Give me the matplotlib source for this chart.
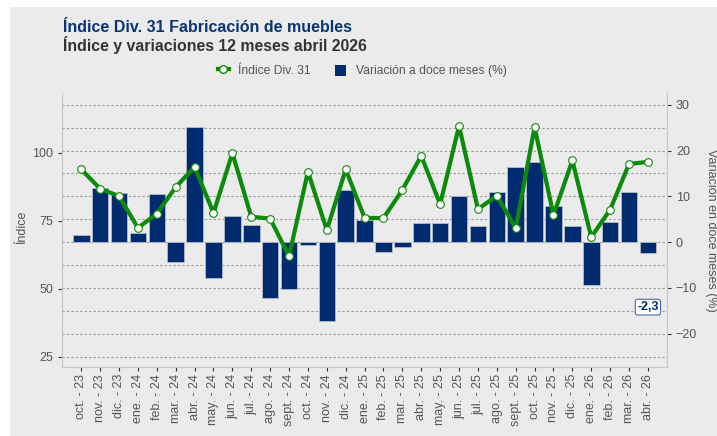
import numpy as np
import matplotlib
matplotlib.use('Agg')
import matplotlib.pyplot as plt
from matplotlib.patches import Rectangle
from matplotlib.lines import Line2D
from matplotlib.ticker import MultipleLocator

plt.rcParams['font.family'] = ['Liberation Sans', 'DejaVu Sans']

months = ['oct. - 23', 'nov. - 23', 'dic. - 23', 'ene. - 24', 'feb. - 24', 'mar. - 24',
          'abr. - 24', 'may. - 24', 'jun. - 24', 'jul. - 24', 'ago. - 24', 'sept. - 24',
          'oct. - 24', 'nov. - 24', 'dic. - 24', 'ene. - 25', 'feb. - 25', 'mar. - 25',
          'abr. - 25', 'may. - 25', 'jun. - 25', 'jul. - 25', 'ago. - 25', 'sept. - 25',
          'oct. - 25', 'nov. - 25', 'dic. - 25', 'ene. - 26', 'feb. - 26', 'mar. - 26',
          'abr. - 26']

# index values (left axis)
indice = [93.8, 86.7, 84.0, 72.3, 77.5, 87.3, 94.7, 77.8, 99.8, 76.4, 75.7, 61.9,
          93.0, 71.5, 93.8, 76.0, 75.9, 86.3, 98.8, 81.0, 109.8, 79.2, 84.1, 72.2,
          109.3, 77.0, 97.1, 68.9, 79.0, 95.8, 96.6]

# 12-month variation in % (right axis)
variacion = [1.6, 11.9, 10.8, 2.0, 10.4, -4.3, 25.2, -7.8, 5.6, 3.8, -12.1, -10.2,
             -0.7, -17.3, 11.4, 4.9, -2.2, -1.1, 4.1, 4.1, 10.0, 3.6, 10.9, 16.5,
             17.4, 7.8, 3.5, -9.3, 4.3, 10.9, -2.3]

green = '#0c8a0c'
navy = '#002b6f'
bg = '#ebebeb'
txt = '#555555'

fig = plt.figure(figsize=(7.17, 4.36), dpi=100)
fig.patch.set_facecolor('white')
fig.patches.append(Rectangle((10 / 717, 0), 1, 1 - 7 / 436, transform=fig.transFigure,
                             facecolor=bg, edgecolor='none', zorder=-10))

ax1 = fig.add_axes([0.087, 0.158, 0.843, 0.628])
ax2 = ax1.twinx()
ax2.set_zorder(1)
ax1.set_zorder(2)
ax1.patch.set_visible(False)
ax2.patch.set_visible(False)

x = np.arange(len(months))

ax2.bar(x, variacion, width=0.88, color=navy, edgecolor='#b4bccb', linewidth=0.6, zorder=2)
ax1.plot(x, indice, color=green, lw=3, marker='o', ms=5.5, mfc='white', mec=green,
         mew=0.8, zorder=3)

ax1.set_xlim(-1, 31)
ax1.set_ylim(21.1, 121.8)
ax2.set_ylim(-27.3, 32.5)

ax1.set_yticks([25, 50, 75, 100])
ax2.yaxis.set_major_locator(MultipleLocator(10))
ax2.yaxis.set_minor_locator(MultipleLocator(5))
ax2.grid(True, which='both', axis='y', linestyle=(0, (2, 2)), color='#9a9a9a', lw=0.8)
ax2.set_axisbelow(True)
ax2.tick_params(axis='y', which='minor', length=0)

ax1.set_xticks(x)
ax1.set_xticklabels(months, rotation=90)

for ax in (ax1, ax2):
    for s in ax.spines.values():
        s.set_color('#c8c8c8')
    ax.spines['top'].set_visible(False)
    ax.tick_params(labelsize=9, labelcolor=txt, length=3, width=0.8, color='#333333')

ax1.tick_params(axis='x', pad=2)

# value label for last bar
ax2.annotate('-2,3', xy=(x[-1], -14.2), ha='center', va='center', fontsize=9,
             fontweight='bold', color=navy, zorder=5,
             bbox=dict(boxstyle='round,pad=0.15,rounding_size=0.2', fc='white',
                       ec='#4a69a8', lw=0.8))

fig.text(63 / 717, 1 - 32.5 / 436, 'Índice Div. 31 Fabricación de muebles',
         fontsize=11.5, fontweight='bold', color='#0a3473', va='baseline')
fig.text(63 / 717, 1 - 50.7 / 436, 'Índice y variaciones 12 meses abril 2026',
         fontsize=11.4, fontweight='bold', color='#333333', va='baseline')

fig.text(22 / 717, 1 - 227 / 436, 'Índice', rotation=90, fontsize=9, color=txt,
         ha='center', va='center')
fig.text(711 / 717, 1 - 230 / 436, 'Variación en doce meses (%)', rotation=270,
         fontsize=9, color=txt, ha='center', va='center')

handles = [Line2D([0], [0], color=green, lw=3, marker='o', ms=5.5, mfc='white', mec=green),
           Rectangle((0, 0), 1, 1, facecolor=navy, edgecolor='none')]
fig.legend(handles, ['Índice Div. 31', 'Variación a doce meses (%)'], loc='center',
           bbox_to_anchor=(0.505, 1 - 71 / 436), ncol=2, frameon=False, fontsize=8.7,
           handlelength=0.9, handleheight=1.0, columnspacing=2.0, handletextpad=0.8,
           labelcolor=txt)

fig.savefig('out.png', dpi=100, facecolor=fig.get_facecolor())
